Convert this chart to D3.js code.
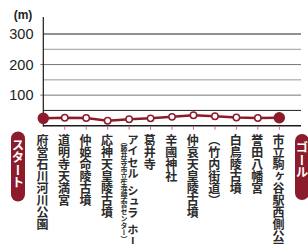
<!DOCTYPE html>
<html>
<head>
<meta charset="utf-8">
<script src="https://cdn.jsdelivr.net/npm/d3@7"></script>
<style>
  html, body { margin: 0; padding: 0; background: #fff; }
  svg { display: block; }
  .lbl { font-family: "Noto Sans CJK JP", sans-serif; font-weight: 700; fill: #2b2b2b; }
</style>
</head>
<body>
<div id="chart"></div>
<script>
// station names along the course, left to right
const stations = ['府営石川河川公園', '道明寺天満宮', '仲姫命陵古墳', '応神天皇陵古墳',
                  'アイセル\u2002シュラ\u2002ホール', '葛井寺', '辛國神社', '仲哀天皇陵古墳',
                  '（竹内街道）', '白鳥陵古墳', '誉田八幡宮', '市立駒ヶ谷駅西側公園'];
const subLabels = ['', '', '', '', '（藤井寺市立生涯学習センター）', '', '', '', '', '', '', ''];
// elevation in metres
const elevations = [24, 26, 25, 16, 21, 24, 29, 34, 31, 27, 25, 26];
const gridValues = [50, 100, 150, 200, 250, 300];
const tickLabels = [100, 200, 300];
const unitLabel = '(m)';
const startLabel = 'スタート';
const goalLabel = 'ゴール';

const width = 308, height = 244;
const plot = {'left': 43.3, 'right': 301, 'top': 34, 'bottom': 125.7, 'axisTop': 17};
const red = '#8c1c2b';
var svg, x, y;

function setup(){
  svg = d3.select('#chart')
          .append('svg')
          .attr('width', width)
          .attr('height', height)
}

function setScales(){
  x = d3.scalePoint()
        .domain(d3.range(stations.length))
        .range([plot.left, 279.3])
  y = d3.scaleLinear()
        .domain([0, 300])
        .range([plot.bottom, plot.top])
}

function drawGrid(){
  svg.selectAll('.grid')
     .data(gridValues)
     .enter().append('line')
     .attr('class', 'grid')
     .attr('x1', d => tickLabels.includes(d) && d != 300 ? plot.left - 3 : plot.left)
     .attr('x2', plot.right)
     .attr('y1', d => y(d))
     .attr('y2', d => y(d))
     .attr('stroke', d => (d == 300 || d == 50) ? '#222' : (d % 100 == 0 ? '#777' : '#999'))
     .attr('stroke-width', 1)

  // baseline
  svg.append('line')
     .attr('x1', plot.left).attr('x2', plot.right)
     .attr('y1', y(0)).attr('y2', y(0))
     .attr('stroke', '#1a1a1a')
     .attr('stroke-width', 1.4)

  // y axis
  svg.append('line')
     .attr('x1', plot.left).attr('x2', plot.left)
     .attr('y1', plot.axisTop).attr('y2', y(0) + 1)
     .attr('stroke', '#1a1a1a')
     .attr('stroke-width', 1.2)

  svg.selectAll('.ytick')
     .data(tickLabels)
     .enter().append('text')
     .attr('class', 'ytick')
     .attr('x', 33.5)
     .attr('y', d => y(d) + 5)
     .attr('text-anchor', 'end')
     .style('font-family', '"Liberation Sans", Arial, sans-serif')
     .style('font-size', '14.5px')
     .attr('fill', '#222')
     .text(d => d)

  svg.append('text')
     .attr('x', 23)
     .attr('y', 19)
     .attr('text-anchor', 'middle')
     .style('font-family', '"Liberation Sans", Arial, sans-serif')
     .style('font-size', '12px')
     .style('font-weight', 'bold')
     .attr('fill', '#222')
     .text(unitLabel)

  // little pink ticks under each stop
  svg.selectAll('.xtick')
     .data(elevations.slice(1))
     .enter().append('line')
     .attr('class', 'xtick')
     .attr('x1', (d, i) => x(i + 1))
     .attr('x2', (d, i) => x(i + 1))
     .attr('y1', y(0) + 1)
     .attr('y2', y(0) + 4)
     .attr('stroke', '#e6529a')
     .attr('stroke-width', 1)
}

function drawProfile(){
  const line = d3.line()
                 .x((d, i) => x(i))
                 .y(d => y(d))
  svg.append('path')
     .datum(elevations)
     .attr('d', line)
     .attr('fill', 'none')
     .attr('stroke', red)
     .attr('stroke-width', 2.5)

  svg.selectAll('.stop')
     .data(elevations)
     .enter().append('circle')
     .attr('class', 'stop')
     .attr('cx', (d, i) => x(i))
     .attr('cy', d => y(d))
     .attr('r', (d, i) => (i == 0 || i == elevations.length - 1) ? 5 : 3.2)
     .attr('fill', (d, i) => (i == 0 || i == elevations.length - 1) ? red : '#fff')
     .attr('stroke', red)
     .attr('stroke-width', 1.5)
}

function drawLabels(){
  svg.selectAll('.station')
     .data(stations)
     .enter().append('text')
     .attr('class', 'lbl station')
     .attr('x', (d, i) => x(i) + (subLabels[i] ? 3.7 : -0.7))
     .attr('y', 134)
     .style('writing-mode', 'vertical-rl')
     .style('font-size', (d, i) => subLabels[i] ? '11.3px' : '12px')
     .text(d => d)

  svg.selectAll('.sub')
     .data(subLabels.map((s, i) => ({'s': s, 'i': i})).filter(d => d.s))
     .enter().append('text')
     .attr('class', 'lbl sub')
     .attr('x', d => x(d.i) - 5)
     .attr('y', 137.5)
     .style('writing-mode', 'vertical-rl')
     .style('font-size', '7px')
     .text(d => d.s)

  // start / goal pills
  const pills = [{'t': startLabel, 'x': 11, 'y': 131.5, 'h': 70},
                 {'t': goalLabel, 'x': 295, 'y': 134, 'h': 66}];
  svg.selectAll('.pill')
     .data(pills)
     .enter().append('rect')
     .attr('class', 'pill')
     .attr('x', d => d.x)
     .attr('y', d => d.y)
     .attr('width', 14)
     .attr('height', d => d.h)
     .attr('rx', 7)
     .attr('fill', red)
  svg.selectAll('.pilltext')
     .data(pills)
     .enter().append('text')
     .attr('class', 'pilltext')
     .attr('x', d => d.x + 7)
     .attr('y', d => d.y + 7)
     .style('writing-mode', 'vertical-rl')
     .style('font-family', '"Noto Sans CJK JP", sans-serif')
     .style('font-weight', 700)
     .style('font-size', '12.5px')
     .attr('fill', '#fff')
     .text(d => d.t)
}

setup();
setScales();
drawGrid();
drawProfile();
drawLabels();
</script>
</body>
</html>
